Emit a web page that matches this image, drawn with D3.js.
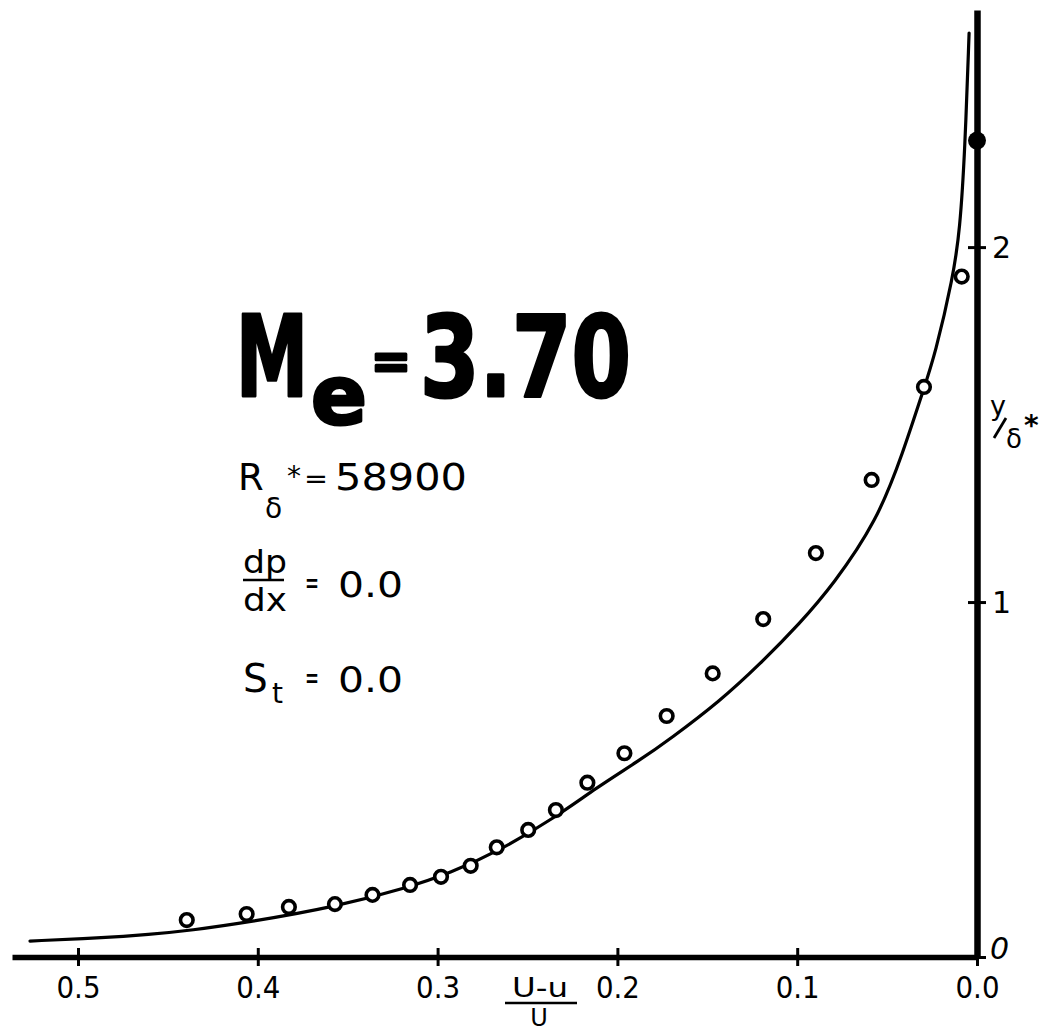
<!DOCTYPE html>
<html>
<head>
<meta charset="utf-8">
<script src="https://cdn.jsdelivr.net/npm/d3@7"></script>
<style>
  html, body { margin: 0; padding: 0; background: #fff; }
  svg { display: block; }
  text { font-family: "DejaVu Sans", "Liberation Sans", sans-serif; fill: #000; }
</style>
</head>
<body>
<div id="chart"></div>
<script>
// velocity defect (U-u)/U  vs  y/delta*
const curveDefect = [0.5267, 0.4878, 0.4600, 0.4377, 0.4043, 0.3571, 0.3153, 0.2931, 0.2670,
                     0.2341, 0.2119, 0.1874, 0.1707, 0.1429, 0.1207, 0.0984, 0.0801, 0.0556,
                     0.0412, 0.0295, 0.0234, 0.0133, 0.0095, 0.0067, 0.0044];
const curveY      = [0.045, 0.0535, 0.0634, 0.0746, 0.0986, 0.1408, 0.1972, 0.2366, 0.2958,
                     0.3944, 0.4761, 0.5549, 0.6141, 0.7211, 0.8253, 0.9408, 1.0479, 1.2282,
                     1.4200, 1.6028, 1.6958, 1.9155, 2.0479, 2.2732, 2.6028];

const pointDefect = [0.4395, 0.4062, 0.3827, 0.3571, 0.3362, 0.3153, 0.2981, 0.2816, 0.2671,
                     0.2496, 0.2342, 0.2167, 0.1961, 0.1726, 0.1470, 0.1189, 0.0896, 0.0586,
                     0.0295, 0.0085];
const pointY      = [0.104, 0.121, 0.141, 0.149, 0.175, 0.203, 0.226, 0.257, 0.309,
                     0.358, 0.414, 0.491, 0.574, 0.679, 0.799, 0.952, 1.138, 1.344,
                     1.606, 1.917];

const edgePoint = { defect: 0.0, y: 2.30 };

const xTicks = [0.5, 0.4, 0.3, 0.2, 0.1, 0.0];
const yTicks = [0, 1, 2];

const width = 1040, height = 1032;

const svg = d3.select("#chart").append("svg")
    .attr("width", width).attr("height", height);

const x = d3.scaleLinear().domain([0, 0.5367]).range([977, 12]);
const y = d3.scaleLinear().domain([0, 2.668]).range([957, 10]);

// x axis
const gx = svg.append("g")
    .attr("transform", `translate(0,${y(0)})`)
    .call(d3.axisBottom(x).tickValues(xTicks).tickFormat(d3.format(".1f")).tickSizeOuter(0));
gx.select(".domain").attr("stroke", "#000").attr("stroke-width", 5.5);
gx.selectAll(".tick line").attr("y1", -9).attr("y2", 9).attr("stroke", "#000").attr("stroke-width", 3);
gx.selectAll(".tick text")
    .attr("y", 41).attr("dy", 0)
    .style("font-size", "30px")
    .attr("textLength", 44).attr("lengthAdjust", "spacingAndGlyphs");

// y axis on the right
const gy = svg.append("g")
    .attr("transform", `translate(${x(0)},0)`)
    .call(d3.axisRight(y).tickValues(yTicks).tickFormat(d3.format("d")).tickSizeOuter(0));
gy.select(".domain").attr("stroke", "#000").attr("stroke-width", 6.5);
gy.selectAll(".tick line").attr("x1", -9).attr("x2", 9).attr("stroke", "#000").attr("stroke-width", 3);
gy.selectAll(".tick text")
    .attr("x", 15).attr("dy", "0.36em")
    .style("font-size", "30px");
gy.selectAll(".tick").filter(d => d === 0).select("text")
    .attr("x", 13).attr("dy", "0.05em").style("font-style", "italic");

// fitted profile
const line = d3.line()
    .x(d => x(d[0]))
    .y(d => y(d[1]))
    .curve(d3.curveBasis);

svg.append("path")
    .datum(d3.zip(curveDefect, curveY))
    .attr("d", line)
    .attr("fill", "none")
    .attr("stroke", "#000")
    .attr("stroke-width", 3.2)
    .attr("stroke-linecap", "round");

// measured points
svg.append("g").selectAll("circle")
    .data(d3.zip(pointDefect, pointY))
    .join("circle")
    .attr("cx", d => x(d[0]))
    .attr("cy", d => y(d[1]))
    .attr("r", 6.3)
    .attr("fill", "#fff")
    .attr("stroke", "#000")
    .attr("stroke-width", 3.6);

svg.append("circle")
    .attr("cx", x(edgePoint.defect))
    .attr("cy", y(edgePoint.y))
    .attr("r", 9)
    .attr("fill", "#000");

// axis titles
const xt = svg.append("g");
xt.append("text").attr("x", 512).attr("y", 997).style("font-size", "26px")
    .attr("textLength", 56).attr("lengthAdjust", "spacingAndGlyphs").text("U-u");
xt.append("line").attr("x1", 505).attr("x2", 577).attr("y1", 1003).attr("y2", 1003)
    .attr("stroke", "#000").attr("stroke-width", 2.6);
xt.append("text").attr("x", 539).attr("y", 1026).attr("text-anchor", "middle")
    .style("font-size", "24px").text("U");

const yt = svg.append("g");
yt.append("text").attr("x", 990).attr("y", 415).style("font-size", "27px").text("y");
yt.append("line").attr("x1", 994).attr("y1", 438).attr("x2", 1006).attr("y2", 418)
    .attr("stroke", "#000").attr("stroke-width", 2.8);
yt.append("text").attr("x", 1006).attr("y", 448).style("font-size", "26px").text("δ");
yt.append("text").attr("x", 1024).attr("y", 435).style("font-size", "28px")
    .style("font-weight", "bold").text("*");

// annotation: Mach number, pieces squeezed horizontally to the lettering's width
const ann = svg.append("g");
const titleParts = [
    { t: "M",    px: 236, py: 396, len: 72,  size: 112 },
    { t: "e",    px: 311, py: 424, len: 56,  size: 82 },
    { t: "=",    px: 371, py: 378, len: 40,  size: 50 },
    { t: "3.70", px: 420, py: 396, len: 211, size: 112 }
];
titleParts.forEach(p => {
    const el = ann.append("text")
        .style("font-weight", "bold").style("font-size", p.size + "px")
        .attr("stroke", "#000").attr("stroke-width", 3).attr("stroke-linejoin", "round")
        .text(p.t);
    const natural = el.node().getComputedTextLength();
    el.attr("transform", `translate(${p.px},${p.py}) scale(${p.len / natural},1)`);
});

function plain(t, px, py, size, len) {
    const el = ann.append("text").attr("x", px).attr("y", py).style("font-size", size + "px").text(t);
    if (len) el.attr("textLength", len).attr("lengthAdjust", "spacingAndGlyphs");
    return el;
}
plain("R", 238, 490, 37);
plain("δ", 265, 518, 28);
plain("*", 287, 486, 28);
plain("=", 304, 488, 26, 24);
plain("58900", 335, 490, 37, 132);

plain("dp", 243, 573, 32, 44);
ann.append("line").attr("x1", 243).attr("x2", 284).attr("y1", 580).attr("y2", 580)
    .attr("stroke", "#000").attr("stroke-width", 2.6);
plain("dx", 243, 611, 32, 44);
plain("=", 305, 594, 32, 14);
plain("0.0", 338, 597, 35, 65);

plain("S", 243, 692, 39);
plain("t", 272, 703, 28);
plain("=", 305, 689, 32, 14);
plain("0.0", 338, 692, 35, 65);
</script>
</body>
</html>
